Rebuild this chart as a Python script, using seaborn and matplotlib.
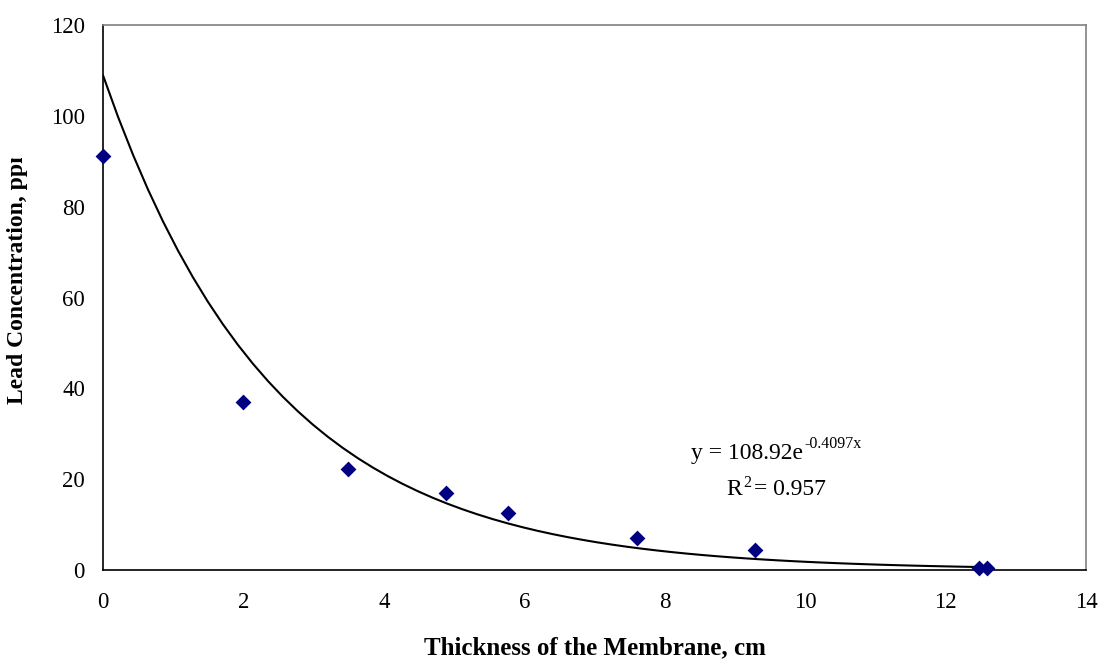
import numpy as np
import pandas as pd
import matplotlib
matplotlib.use("Agg")
import matplotlib.pyplot as plt
import seaborn as sns
from matplotlib.transforms import Bbox

thickness = [0.0, 1.99, 3.49, 4.89, 5.77, 7.60, 9.29, 12.47, 12.59]
lead_ppm = [91.1, 37.1, 22.2, 16.9, 12.5, 7.1, 4.5, 0.5, 0.5]
fit_a = 108.92
fit_b = -0.4097
x_ticks = [0, 2, 4, 6, 8, 10, 12, 14]
y_ticks = [0, 20, 40, 60, 80, 100, 120]

sns.set_theme(style="white")
plt.rcParams['font.family'] = ['Liberation Serif', 'DejaVu Serif']
plt.rcParams['text.color'] = 'black'
plt.rcParams['axes.labelcolor'] = 'black'

fig = plt.figure(figsize=(10.99, 6.6), dpi=100)
ax = fig.add_axes([103/1099, 1-570/660, (1086-103)/1099, (570-25)/660])

xs = np.linspace(0, max(thickness), 60)
trend = pd.DataFrame({"x": xs, "y": fit_a*np.exp(fit_b*xs)})
sns.lineplot(data=trend, x="x", y="y", color="black", linewidth=1.5, ax=ax)

df = pd.DataFrame({"x": thickness, "y": lead_ppm})
sns.scatterplot(data=df, x="x", y="y", marker="D", color="#000080", s=65,
                edgecolor="#000080", linewidth=0, ax=ax, zorder=3, clip_on=False)

ax.set_xlim(0, 14)
ax.set_ylim(0, 120)
ax.set_xticks(x_ticks)
ax.set_yticks(y_ticks)
ax.tick_params(axis="both", which="major", direction="out", length=6, width=1,
               labelsize=16.5, colors="black", pad=7)
ax.tick_params(axis="x", pad=10)
for s in ["left", "bottom"]:
    ax.spines[s].set_color("black")
    ax.spines[s].set_linewidth(1.2)
for s in ["top", "right"]:
    ax.spines[s].set_color("#808080")
    ax.spines[s].set_linewidth(1.2)
ax.grid(False)

ax.set_xlabel("Thickness of the Membrane, cm", fontsize=18, fontweight="bold",
              va="center", color="black")
ax.xaxis.set_label_coords(0.5, (570-648)/545)
ax.set_ylabel("Lead Concentration, ppm", fontsize=17, fontweight="bold",
              va="center", ha="center", color="black")
ax.yaxis.set_label_coords((18-103)/983, (570-274)/545)
ylab = ax.yaxis.label
ylab.set_clip_on(True)
ylab.set_clip_box(Bbox([[0, 0], [80, 660-158]]))

fs = 17
ax.text(803/1099, 1-459/660, "y = 108.92e", transform=fig.transFigure,
        fontsize=fs, ha="right", va="baseline")
ax.text(804/1099, 1-448/660, "-0.4097x", transform=fig.transFigure,
        fontsize=11.5, ha="left", va="baseline")
ax.text(742/1099, 1-495/660, "R", transform=fig.transFigure,
        fontsize=fs, ha="right", va="baseline")
ax.text(743/1099, 1-487/660, "2", transform=fig.transFigure,
        fontsize=11.5, ha="left", va="baseline")
ax.text(754/1099, 1-495/660, "= 0.957", transform=fig.transFigure,
        fontsize=fs, ha="left", va="baseline")

fig.savefig("out.png", dpi=100)
